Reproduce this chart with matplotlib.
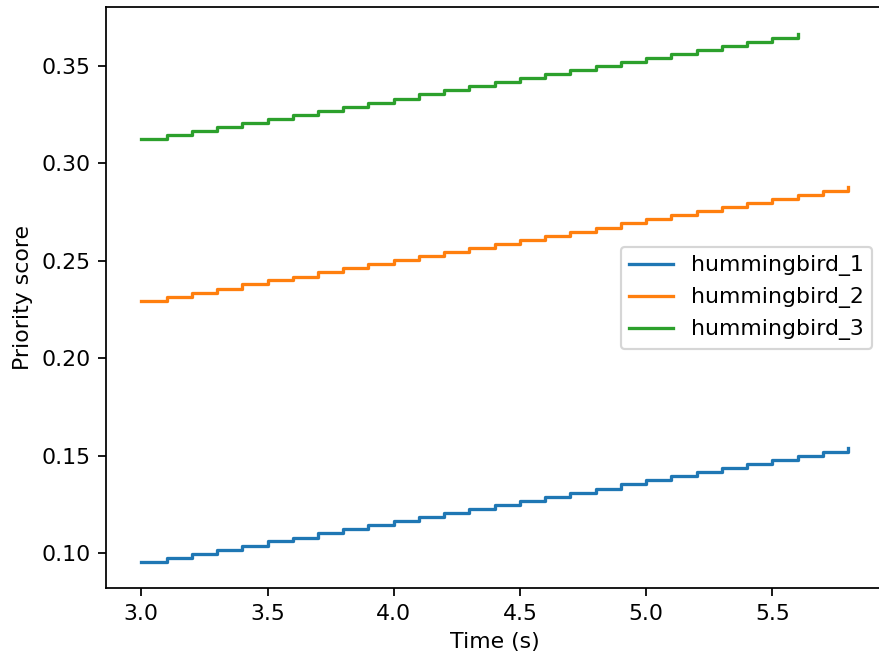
import matplotlib
matplotlib.use("Agg")
import matplotlib.pyplot as plt

time_1 = [3.0, 3.1, 3.2, 3.3, 3.4, 3.5, 3.6, 3.7, 3.8, 3.9, 4.0, 4.1, 4.2, 4.3, 4.4,
          4.5, 4.6, 4.7, 4.8, 4.9, 5.0, 5.1, 5.2, 5.3, 5.4, 5.5, 5.6, 5.7, 5.8]
hummingbird_1 = [0.0956, 0.0977, 0.0998, 0.1019, 0.1040, 0.1061, 0.1081, 0.1102, 0.1123,
                 0.1144, 0.1165, 0.1186, 0.1207, 0.1228, 0.1249, 0.1270, 0.1290, 0.1311,
                 0.1332, 0.1353, 0.1374, 0.1395, 0.1416, 0.1437, 0.1458, 0.1479, 0.1499,
                 0.1520, 0.1541]
time_2 = time_1
hummingbird_2 = [0.2295, 0.2316, 0.2337, 0.2358, 0.2379, 0.2400, 0.2420, 0.2441, 0.2462,
                 0.2483, 0.2504, 0.2525, 0.2546, 0.2567, 0.2588, 0.2609, 0.2629, 0.2650,
                 0.2671, 0.2692, 0.2713, 0.2734, 0.2755, 0.2776, 0.2797, 0.2818, 0.2838,
                 0.2859, 0.2880]
time_3 = [3.0, 3.1, 3.2, 3.3, 3.4, 3.5, 3.6, 3.7, 3.8, 3.9, 4.0, 4.1, 4.2, 4.3, 4.4,
          4.5, 4.6, 4.7, 4.8, 4.9, 5.0, 5.1, 5.2, 5.3, 5.4, 5.5, 5.6]
hummingbird_3 = [0.3125, 0.3146, 0.3167, 0.3187, 0.3208, 0.3229, 0.3250, 0.3271, 0.3291,
                 0.3312, 0.3333, 0.3354, 0.3375, 0.3395, 0.3416, 0.3437, 0.3458, 0.3479,
                 0.3499, 0.3520, 0.3541, 0.3562, 0.3583, 0.3603, 0.3624, 0.3645, 0.3666]

DPI = 158
fig = plt.figure(figsize=(879 / DPI, 660 / DPI), dpi=DPI)
ax = fig.add_axes([106 / 879, 1 - 588.3 / 660, (883.4 - 106) / 879, (588.3 - 7.2) / 660])

ax.step(time_1, hummingbird_1, where="post", label="hummingbird_1")
ax.step(time_2, hummingbird_2, where="post", label="hummingbird_2")
ax.step(time_3, hummingbird_3, where="post", label="hummingbird_3")

ax.set_xlabel("Time (s)")
ax.set_ylabel("Priority score")
ax.legend(loc="center right")

fig.savefig("out.png", dpi=DPI)
